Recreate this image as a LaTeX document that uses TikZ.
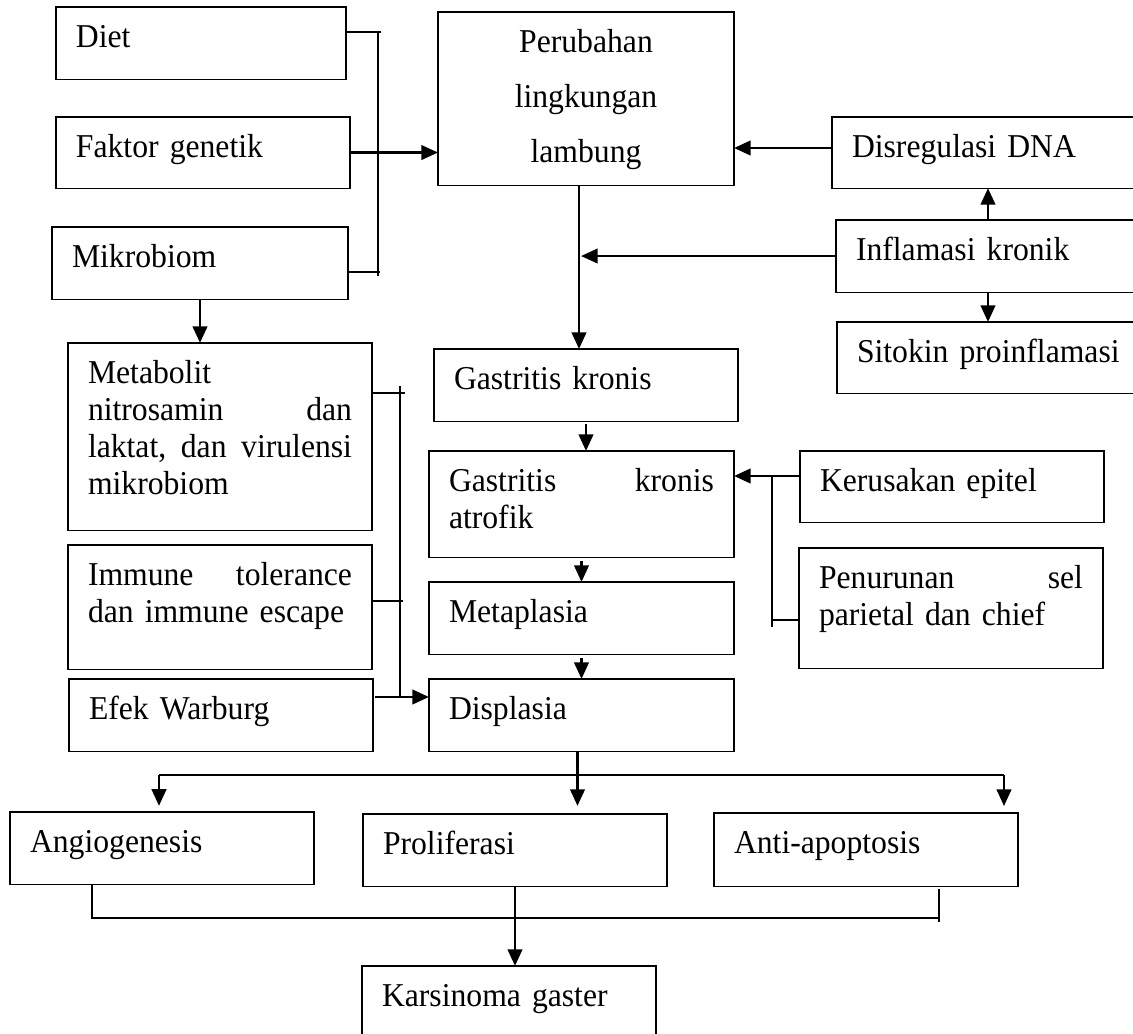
\documentclass[tikz,border=0pt]{standalone}
\usepackage{fontspec}
\setmainfont{Liberation Serif}[FakeStretch=0.95]
\usetikzlibrary{arrows.meta,calc}

\tikzset{
  box/.style 2 args={draw, line width=0.4pt, anchor=north west, outer sep=0pt,
    inner xsep=7.2pt, inner ysep=0pt, align=left,
    text width={(#1-40)*0.36pt}, text height=14.6pt, text depth={(#2-40.5)*0.36pt}},
  arr/.style={-{Triangle[length=6pt,width=5.2pt]}, line width=1pt},
  thinline/.style={line width=0.45pt},
}

\begin{document}
\begin{tikzpicture}[x=0.36pt, y=-0.36pt,
    every node/.style={font=\fontsize{12}{13.32}\selectfont}]
  \useasboundingbox (0,0) rectangle (1133,1034);

  % causes (left top)
  \node[box={290}{72}] (diet) at (56,7) {Diet};
  \node[box={294}{71}] (faktor) at (56,117) {Faktor genetik};
  \node[box={296}{72}] (mikro) at (52,227) {Mikrobiom};
  \node[box={296}{173}, align=center, font=\fontsize{12}{19.8}\selectfont] (peru) at (438,12) {Perubahan\\lingkungan\\lambung};

  % right column
  \node[box={304}{71}] (disreg) at (832,117) {Disregulasi DNA};
  \node[box={304}{72}] (inflam) at (836,220) {Inflamasi kronik};
  \node[box={304}{71}] (sitokin) at (837,322) {Sitokin proinflamasi};
  \node[box={304}{71}] (kerusakan) at (800,451) {Kerusakan epitel};
  \node[box={304}{120}] (penurunan) at (799,548) {Penurunan\hfill sel\\parietal dan chief};

  % left column
  \node[box={304}{187}] (metab) at (68,343) {Metabolit\\nitrosamin\hfill dan\\laktat,\hfill dan\hfill virulensi\\mikrobiom};
  \node[box={304}{124}] (immune) at (68,545) {Immune\hfill tolerance\\dan immune escape};
  \node[box={304}{72}] (efek) at (69,679) {Efek Warburg};

  % main chain
  \node[box={304}{72}] (gk) at (434,349) {Gastritis kronis};
  \node[box={305}{106}] (gka) at (429,451) {Gastritis\hfill kronis\\atrofik};
  \node[box={305}{72}] (meta) at (429,582) {Metaplasia};
  \node[box={305}{72}] (displ) at (429,679) {Displasia};

  % outcomes
  \node[box={304}{72}] (angio) at (10,812) {Angiogenesis};
  \node[box={304}{72}] (prolif) at (363,814) {Proliferasi};
  \node[box={304}{73}] (anti) at (714,813) {Anti-apoptosis};
  \node[box={294}{80}] (karsi) at (362,966) {Karsinoma gaster};

  % bracket into Perubahan
  \coordinate (brtop) at (378,31);
  \coordinate (brbot) at (378,276);
  \draw[thinline] (brtop) -- (brbot);
  \draw[thinline] ($(diet.north east)+(0,25)$) -- +(35,0);
  \draw[thinline] ($(mikro.north east)+(0,45)$) -- +(32,0);
  \draw[arr] (faktor.east) -- (faktor.east -| peru.west);

  % right side into trunk
  \coordinate (dnaout) at ($(disreg.north west)+(0,31)$);
  \draw[arr] (dnaout) -- (dnaout -| peru.east);
  \coordinate (trunk) at ($(peru.south)+(-7,0)$);
  \draw[arr] (trunk) -- (trunk |- gk.north);
  \draw[arr] (inflam.west) -- ($(inflam.west -| trunk)+(2,0)$);
  \draw[arr] (inflam.north) -- (inflam.north |- disreg.south);
  \draw[arr] (inflam.south) -- (inflam.south |- sitokin.north);

  % chain
  \draw[arr, shorten <=1pt] (gk.south) -- (gk.south |- gka.north);
  \draw[arr, shorten <=1.4pt] (gka.south) -- (meta.north);
  \draw[arr, shorten <=1.4pt] (meta.south) -- (displ.north);

  % epitel and sel parietal
  \coordinate (epout) at ($(kerusakan.north west)+(0,25)$);
  \draw[arr] (epout) -- (epout -| gka.east);
  \coordinate (brR) at ($(epout)+(-28,0)$);
  \draw[thinline] (brR) -- +(0,151);
  \draw[thinline] ($(penurunan.north west)+(0,72)$) -- +(-27,0);

  % microbiome branch
  \draw[arr] (mikro.south) -- (mikro.south |- metab.north);
  \coordinate (brLtop) at (400,386);
  \coordinate (efekout) at ($(efek.north east)+(2,18)$);
  \draw[thinline] (brLtop) -- ($(brLtop |- efekout)+(0,1)$);
  \draw[thinline] ($(metab.north east)+(0,50)$) -- +(33,0);
  \draw[thinline] ($(immune.north east)+(0,56)$) -- +(31,0);
  \draw[arr] (efekout) -- (efekout -| displ.west);

  % split from Displasia
  \coordinate (splitL) at (159,775);
  \coordinate (splitR) at (1004,775);
  \coordinate (dsrc) at ($(displ.south)+(-4,0)$);
  \draw[thinline] (splitL) -- (splitR);
  \draw[arr, shorten >=2.9pt] (dsrc) -- (dsrc |- prolif.north);
  \draw[arr, shorten >=2.2pt] (splitL) -- (splitL |- angio.north);
  \draw[arr, shorten >=2.5pt] (splitR) -- (splitR |- anti.north);

  % join into Karsinoma
  \coordinate (joinL) at (92,918);
  \coordinate (joinR) at (939,918);
  \draw[thinline] (angio.south -| joinL) -- (joinL) -- (joinR);
  \draw[thinline] ($(joinR)+(0,-29)$) -- ($(joinR)+(0,4)$);
  \draw[arr] (prolif.south) -- (prolif.south |- karsi.north);
\end{tikzpicture}
\end{document}
